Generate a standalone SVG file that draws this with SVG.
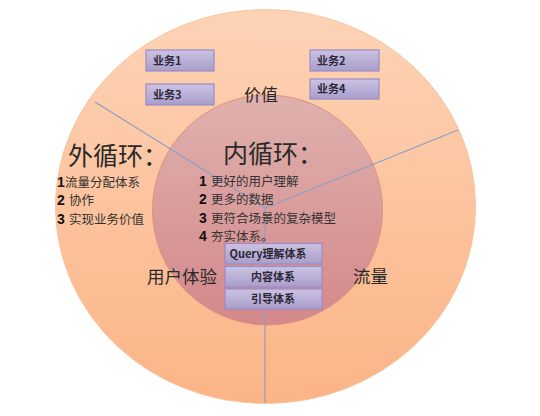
<svg xmlns="http://www.w3.org/2000/svg" width="540" height="416" viewBox="0 0 540 416">
<defs>
<linearGradient id="gOuter" x1="0" y1="0" x2="0" y2="1">
<stop offset="0" stop-color="#fdd3b6"/>
<stop offset="1" stop-color="#fbb486"/>
</linearGradient>
<linearGradient id="gInner" x1="0" y1="0" x2="0" y2="1">
<stop offset="0" stop-color="#dfb1ad"/>
<stop offset="1" stop-color="#d4888a"/>
</linearGradient>
<linearGradient id="gBox" x1="0" y1="0" x2="0" y2="1">
<stop offset="0" stop-color="#cbc3e2"/>
<stop offset="1" stop-color="#a99dcb"/>
</linearGradient>
<style>
.box{fill:url(#gBox);stroke:#9a8cc6;stroke-width:1.2}
.bt{font-family:"Noto Sans CJK SC","Liberation Sans",sans-serif;font-size:11px;font-weight:bold;fill:#2b2838}
.lbl{font-family:"Noto Sans CJK SC",sans-serif;fill:#2a2a2a}
.num{font-family:"Liberation Sans",sans-serif;font-size:14px;font-weight:bold;fill:#111}
.li{font-family:"Noto Sans CJK SC",sans-serif;font-size:12.5px;fill:#333}
.conn{stroke:#8c9fc6;stroke-width:1.2;fill:none}
</style>
</defs>
<rect width="540" height="416" fill="#ffffff"/>
<g id="outer-loop">
<ellipse cx="265.5" cy="206.5" rx="210" ry="197" fill="url(#gOuter)" stroke="#f9c49a" stroke-width="1"/>
</g>
<g id="inner-loop">
<circle cx="267.5" cy="210" r="115" fill="url(#gInner)" stroke="#e2907f" stroke-width="1"/>
</g>
<g id="connectors">
<line class="conn" x1="95" y1="102" x2="265" y2="208"/>
<line class="conn" x1="458" y1="130" x2="265" y2="208"/>
<line class="conn" x1="265" y1="208" x2="265" y2="403"/>
</g>
<g id="biz1"><rect class="box" x="146" y="50" width="68" height="21"/><text class="bt" x="153" y="65">业务1</text></g>
<g id="biz2"><rect class="box" x="310" y="50" width="69" height="21"/><text class="bt" x="317" y="65">业务2</text></g>
<g id="biz3"><rect class="box" x="146" y="84" width="68" height="21"/><text class="bt" x="153" y="99">业务3</text></g>
<g id="biz4"><rect class="box" x="310" y="79" width="69" height="20"/><text class="bt" x="317" y="93">业务4</text></g>
<g id="value"><text class="lbl" x="261" y="101" font-size="17" text-anchor="middle">价值</text></g>
<g id="outer-title"><text class="lbl" x="68" y="165" font-size="25" fill="#111">外循环：</text></g>
<g id="inner-title"><text class="lbl" x="223" y="163" font-size="25" fill="#111">内循环：</text></g>
<g id="outer-list">
<text class="li"><tspan class="num" x="57" y="187">1</tspan><tspan x="65" y="187">流量分配体系</tspan><tspan class="num" x="57" y="205.3">2</tspan><tspan x="69" y="205.3">协作</tspan><tspan class="num" x="57" y="223.6">3</tspan><tspan x="69" y="223.6">实现业务价值</tspan></text>
</g>
<g id="inner-list">
<text class="li"><tspan class="num" x="199" y="186">1</tspan><tspan x="211" y="186">更好的用户理解</tspan><tspan class="num" x="199" y="204.3">2</tspan><tspan x="211" y="204.3">更多的数据</tspan><tspan class="num" x="199" y="222.6">3</tspan><tspan x="211" y="222.6">更符合场景的复杂模型</tspan><tspan class="num" x="199" y="240.9">4</tspan><tspan x="211" y="240.9">夯实体系。</tspan></text>
</g>
<g id="ux"><text class="lbl" x="147" y="283" font-size="17.5">用户体验</text></g>
<g id="traffic"><text class="lbl" x="353" y="283" font-size="17.5">流量</text></g>
<g id="query"><rect class="box" x="225" y="243.5" width="97" height="20.5"/><text class="bt" x="268" y="258" text-anchor="middle">Query理解体系</text></g>
<g id="content"><rect class="box" x="225" y="266.5" width="97" height="20.5"/><text class="bt" x="273" y="281" text-anchor="middle">内容体系</text></g>
<g id="guide"><rect class="box" x="225" y="289" width="97" height="20"/><text class="bt" x="273" y="303" text-anchor="middle">引导体系</text></g>
</svg>
